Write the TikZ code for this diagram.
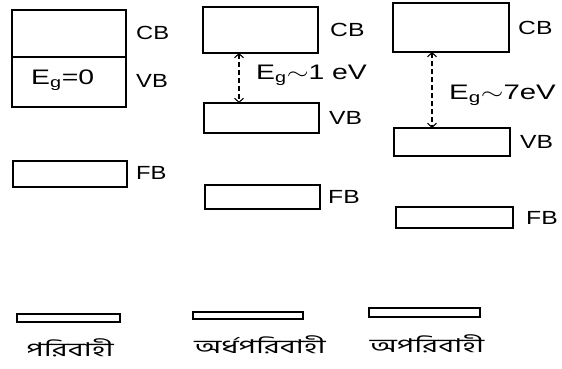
\documentclass[tikz,border=0pt]{standalone}
\usepackage{graphicx}
\usepackage{fontspec}
\setmainfont{Liberation Sans}
\newfontfamily\bnfont[Script=Bengali]{Hind Siliguri}
\usetikzlibrary{arrows.meta}
\newcommand{\wide}[2]{\scalebox{#1}[1]{#2}}
\begin{document}
\begin{tikzpicture}[x=1pt,y=-1pt,
  band/.style={draw,line width=1.3pt,inner sep=0pt,outer sep=0pt,anchor=north west},
  lbl/.style={anchor=west,inner sep=0pt,font=\fontsize{19}{19}\selectfont},
  eg/.style={anchor=west,inner sep=0pt,font=\fontsize{21}{21}\selectfont},
  gap/.style={line width=1.1pt,dash pattern=on 5pt off 3pt,{Straight Barb[length=4pt,width=9pt]}-{Straight Barb[length=4pt,width=9pt]}},
  bn/.style={inner sep=0pt,font=\bnfont\fontsize{19}{19}\selectfont}]
\useasboundingbox (0,0) rectangle (562,369);
% column 1
\node[band,minimum width=114pt,minimum height=47pt] (cb1) at (12,10) {};
\node[band,minimum width=114pt,minimum height=50pt] (vb1) at (12,57) {};
\node[band,minimum width=114pt,minimum height=26pt] (fb1) at (13,161) {};
\node[lbl] (cbl1) at (136,33) {\wide{1.25}{CB}};
\node[lbl] (vbl1) at (136,81) {\wide{1.25}{VB}};
\node[lbl] (fbl1) at (136,173) {\wide{1.25}{FB}};
\node[eg] (eg1) at (31,80) {\wide{1.35}{E\textsubscript{g}=0}};
% column 2
\node[band,minimum width=115pt,minimum height=46pt] (cb2) at (203,7) {};
\node[band,minimum width=115pt,minimum height=30pt] (vb2) at (204,103) {};
\node[band,minimum width=115pt,minimum height=24pt] (fb2) at (205,185) {};
\node[lbl] (cbl2) at (330,30) {\wide{1.3}{CB}};
\node[lbl] (vbl2) at (329,118) {\wide{1.3}{VB}};
\node[lbl] (fbl2) at (328,197) {\wide{1.3}{FB}};
\coordinate (a2) at (239,0);
\draw[gap] (cb2.south -| a2) -- (vb2.north -| a2);
\node[eg] (eg2) at (256,75) {\wide{1.35}{E\textsubscript{g}$\sim$1 eV}};
% column 3
\node[band,minimum width=116pt,minimum height=49pt] (cb3) at (393,3) {};
\node[band,minimum width=116pt,minimum height=28pt] (vb3) at (394,128) {};
\node[band,minimum width=117pt,minimum height=21pt] (fb3) at (396,207) {};
\node[lbl] (cbl3) at (518,28) {\wide{1.3}{CB}};
\node[lbl] (vbl3) at (520,142) {\wide{1.3}{VB}};
\node[lbl] (fbl3) at (526,218) {\wide{1.3}{FB}};
\coordinate (a3) at (432,0);
\draw[gap] (cb3.south -| a3) -- (vb3.north -| a3);
\node[eg] (eg3) at (449,95) {\wide{1.4}{E\textsubscript{g}$\sim$7eV}};
% bottom bars
\node[band,minimum width=103pt,minimum height=8pt] (b1) at (17,314) {};
\node[band,minimum width=110pt,minimum height=7pt] (b2) at (193,312) {};
\node[band,minimum width=111pt,minimum height=9pt] (b3) at (369,308) {};
\node[bn] (t1) at (70,348) {\wide{1.6}{পরিবাহী}};
\node[bn] (t2) at (260,345) {\wide{1.6}{অর্ধপরিবাহী}};
\node[bn] (t3) at (427,344) {\wide{1.6}{অপরিবাহী}};
\end{tikzpicture}
\end{document}
